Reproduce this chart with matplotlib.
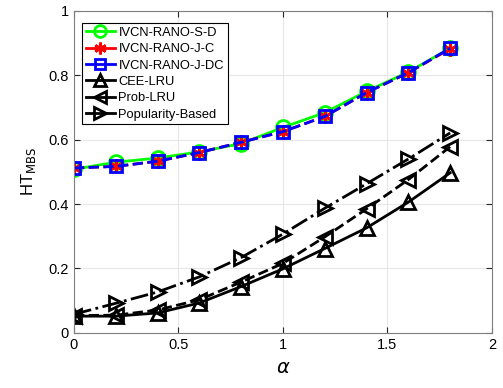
import matplotlib
matplotlib.use("Agg")
import matplotlib.pyplot as plt

plt.rcParams["font.family"] = ["Liberation Sans", "DejaVu Sans"]
plt.rcParams["font.size"] = 10.5

alpha = [0, 0.2, 0.4, 0.6, 0.8, 1.0, 1.2, 1.4, 1.6, 1.8]

s_d = [0.508, 0.530, 0.543, 0.562, 0.588, 0.638, 0.684, 0.750, 0.810, 0.884]
j_c = [0.512, 0.517, 0.533, 0.560, 0.592, 0.625, 0.672, 0.746, 0.808, 0.882]
j_dc = [0.512, 0.517, 0.533, 0.560, 0.592, 0.625, 0.672, 0.746, 0.808, 0.884]
cee_lru = [0.052, 0.052, 0.062, 0.093, 0.144, 0.199, 0.262, 0.326, 0.406, 0.497]
prob_lru = [0.054, 0.055, 0.071, 0.103, 0.158, 0.216, 0.298, 0.385, 0.476, 0.578]
popularity = [0.058, 0.092, 0.127, 0.174, 0.234, 0.307, 0.387, 0.463, 0.540, 0.621]

fig = plt.figure(figsize=(5.03, 3.88), dpi=100)
ax = fig.add_axes([0.147, 0.142, 0.831, 0.830])

ax.plot(alpha, s_d, "-o", color="#00ff00", lw=2, ms=10, mfc="none", mew=2, label="IVCN-RANO-S-D")
ax.plot(alpha, j_c, "--", marker=(6, 2, 0), color="#ff0000", lw=2, ms=10, mew=2, label="IVCN-RANO-J-C")
ax.plot(alpha, j_dc, "--s", color="#0000ff", lw=2, ms=9, mfc="none", mew=2, label="IVCN-RANO-J-DC")
ax.plot(alpha, cee_lru, "-^", color="black", lw=2, ms=10, mfc="none", mew=2, label="CEE-LRU")
ax.plot(alpha, prob_lru, "--<", color="black", lw=2, ms=10, mfc="none", mew=2, label="Prob-LRU")
ax.plot(alpha, popularity, "-.>", color="black", lw=2, ms=10, mfc="none", mew=2, label="Popularity-Based")

ax.set_xlim(0, 2)
ax.set_ylim(0, 1)
ax.set_xticks([0, 0.5, 1, 1.5, 2])
ax.set_xticklabels(["0", "0.5", "1", "1.5", "2"])
ax.set_yticks([0, 0.2, 0.4, 0.6, 0.8, 1])
ax.set_yticklabels(["0", "0.2", "0.4", "0.6", "0.8", "1"])
ax.grid(True, color="#e6e6e6", lw=0.8)
ax.tick_params(direction="in", top=True, right=True, colors="#262626", labelcolor="black", length=4)
for sp in ax.spines.values():
    sp.set_color("#7f7f7f")

ax.set_xlabel(r"$\alpha$", fontsize=14, labelpad=6)
ax.set_ylabel(r"HT$_{\mathrm{MBS}}$", fontsize=12, labelpad=8)

leg = ax.legend(loc="upper left", bbox_to_anchor=(0.02, 0.962), fancybox=False, edgecolor="black",
                framealpha=1, handlelength=2.2, handletextpad=0.3, borderpad=0.3,
                labelspacing=0.33, borderaxespad=0.0, fontsize=9.3, markerscale=0.85)
leg.get_frame().set_linewidth(0.8)
for h in leg.get_lines():
    h.set_linestyle("-")

fig.savefig("out.png", dpi=100)
